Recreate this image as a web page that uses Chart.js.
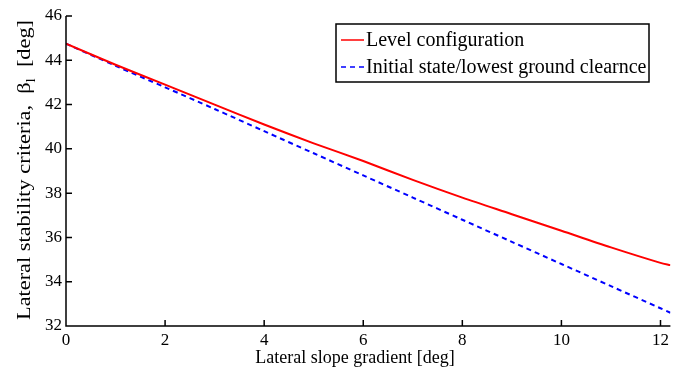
<!DOCTYPE html>
<html lang="en">
<head>
  <meta charset="UTF-8">
  <title>Lateral stability criteria</title>
  <script src="https://cdn.jsdelivr.net/npm/chart.js"></script>
  <style>
    html, body { margin: 0; padding: 0; background: #fff; }
    #wrap { width: 673px; height: 372px; }
  </style>
</head>
<body>
  <div id="wrap"><canvas id="chart" width="673" height="372"></canvas></div>
  <script>
    // slope gradient [deg]
    const slope = [0, 1, 2, 3, 4, 5, 6, 7, 8, 9, 10, 11, 12, 12.2];
    const levelConfig = [44.75, 43.8, 42.9, 42.0, 41.1, 40.25, 39.45, 38.6, 37.8, 37.05, 36.3, 35.55, 34.85, 34.75];
    const initialState = [44.75, 43.75, 42.78, 41.8, 40.8, 39.8, 38.8, 37.8, 36.8, 35.8, 34.8, 33.8, 32.8, 32.6];
    const xTicks = [0, 2, 4, 6, 8, 10, 12];
    const yTicks = [32, 34, 36, 38, 40, 42, 44, 46];
    const seriesNames = ['Level configuration', 'Initial state/lowest ground clearnce'];

    const FONT = '"Liberation Serif", "Times New Roman", serif';

    const toPts = ys => slope.map((x, i) => ({ x: x, y: ys[i] }));

    // inward ticks, axis lines, titles and legend box
    const decor = {
      id: 'decor',
      afterDraw(chart) {
        const { ctx, chartArea: a, scales: { x, y } } = chart;
        ctx.save();
        ctx.strokeStyle = '#000';
        ctx.lineWidth = 1.5;
        ctx.beginPath();
        ctx.moveTo(a.left, a.top);
        ctx.lineTo(a.left, a.bottom);
        ctx.lineTo(a.right, a.bottom);
        xTicks.forEach(v => {
          const px = x.getPixelForValue(v);
          ctx.moveTo(px, a.bottom);
          ctx.lineTo(px, a.bottom - 6);
        });
        yTicks.forEach(v => {
          const py = y.getPixelForValue(v);
          ctx.moveTo(a.left, py);
          ctx.lineTo(a.left + 6, py);
        });
        ctx.stroke();

        ctx.fillStyle = '#000';
        ctx.textBaseline = 'alphabetic';
        ctx.font = '18px ' + FONT;
        ctx.textAlign = 'center';
        ctx.fillText('Lateral slope gradient [deg]', 355, 363);

        // y title with subscript, stretched along its length like the original
        ctx.translate(30, 170);
        ctx.rotate(-Math.PI / 2);
        ctx.scale(1.24, 1);
        const main = 'Lateral stability criteria,  \u03B2';
        const sub = 'l';
        const tail = '  [deg]';
        ctx.font = '18px ' + FONT;
        const w1 = ctx.measureText(main).width;
        const w3 = ctx.measureText(tail).width;
        ctx.font = '12px ' + FONT;
        const w2 = ctx.measureText(sub).width;
        let sx = -(w1 + w2 + w3) / 2;
        ctx.textAlign = 'left';
        ctx.font = '18px ' + FONT;
        ctx.fillText(main, sx, 0);
        sx += w1;
        ctx.font = '12px ' + FONT;
        ctx.fillText(sub, sx, 5);
        sx += w2;
        ctx.font = '18px ' + FONT;
        ctx.fillText(tail, sx, 0);
        ctx.restore();

        // legend
        ctx.save();
        ctx.fillStyle = '#fff';
        ctx.fillRect(336, 24, 313, 58);
        ctx.strokeStyle = '#000';
        ctx.lineWidth = 1.5;
        ctx.strokeRect(336, 24, 313, 58);
        const rows = [40, 67];
        chart.data.datasets.forEach((ds, i) => {
          ctx.strokeStyle = ds.borderColor;
          ctx.lineWidth = 1.5;
          ctx.setLineDash(ds.borderDash || []);
          ctx.beginPath();
          ctx.moveTo(341, rows[i]);
          ctx.lineTo(364, rows[i]);
          ctx.stroke();
          ctx.setLineDash([]);
          ctx.fillStyle = '#000';
          ctx.font = '20px ' + FONT;
          ctx.textAlign = 'left';
          ctx.textBaseline = 'middle';
          ctx.fillText(ds.label, 366, rows[i] + 1);
        });
        ctx.restore();
      }
    };

    new Chart(document.getElementById('chart'), {
      type: 'line',
      data: {
        datasets: [
          {
            label: seriesNames[0],
            data: toPts(levelConfig),
            borderColor: '#ff0000',
            borderWidth: 2,
            pointRadius: 0,
            tension: 0.3,
            fill: false
          },
          {
            label: seriesNames[1],
            data: toPts(initialState),
            borderColor: '#0000ff',
            borderWidth: 2,
            borderDash: [5, 4],
            pointRadius: 0,
            tension: 0.3,
            fill: false
          }
        ]
      },
      options: {
        responsive: false,
        animation: false,
        layout: { padding: { top: 16, right: 0, left: 0, bottom: 0 } },
        plugins: {
          legend: { display: false },
          tooltip: { enabled: false }
        },
        scales: {
          x: {
            type: 'linear',
            min: 0,
            max: 12.2,
            afterFit: s => { s.height = 46; },
            afterBuildTicks: s => { s.ticks = xTicks.map(v => ({ value: v })); },
            grid: { display: false, drawTicks: false },
            border: { display: false },
            ticks: {
              color: '#000',
              font: { family: FONT, size: 17 },
              padding: 4,
              maxRotation: 0
            }
          },
          y: {
            type: 'linear',
            min: 32,
            max: 46,
            afterFit: s => { s.width = 66; },
            afterBuildTicks: s => { s.ticks = yTicks.map(v => ({ value: v })); },
            grid: { display: false, drawTicks: false },
            border: { display: false },
            ticks: {
              color: '#000',
              font: { family: FONT, size: 17 },
              padding: 4
            }
          }
        }
      },
      plugins: [decor]
    });
  </script>
</body>
</html>
